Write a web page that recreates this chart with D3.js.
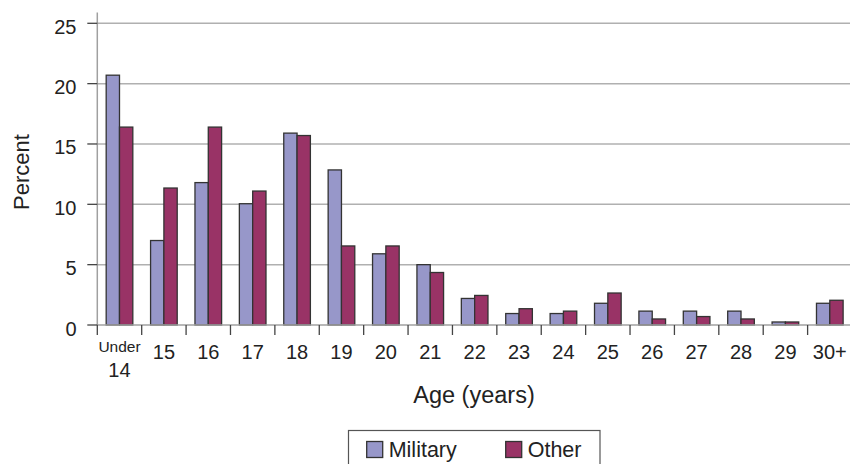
<!DOCTYPE html>
<html>
<head>
<meta charset="utf-8">
<script src="https://cdn.jsdelivr.net/npm/d3@7"></script>
<style>
  html, body { margin: 0; padding: 0; background: #fff; }
  svg { display: block; font-family: "Liberation Sans", Arial, Helvetica, sans-serif; }
</style>
</head>
<body>
<svg id="chart" width="850" height="464"></svg>
<script>
const categories = ["Under 14", "15", "16", "17", "18", "19", "20", "21", "22", "23", "24", "25", "26", "27", "28", "29", "30+"];
const seriesNames = ["Military", "Other"];
const military = [20.7, 7.0, 11.8, 10.05, 15.9, 12.85, 5.9, 5.0, 2.2, 0.95, 0.95, 1.8, 1.15, 1.15, 1.15, 0.25, 1.8];
const other    = [16.4, 11.35, 16.4, 11.1, 15.7, 6.55, 6.55, 4.35, 2.45, 1.35, 1.15, 2.65, 0.5, 0.7, 0.5, 0.25, 2.05];
const yTicks = [0, 5, 10, 15, 20, 25];
const colors = ["#9797c9", "#993366"];

const svg = d3.select("#chart");
const plotLeft = 97.3, plotRight = 852, plotTop = 23.3, plotBottom = 325;

const x0 = d3.scaleBand().domain(categories).range([plotLeft, plotRight]).paddingInner(0).paddingOuter(0);
const x1 = d3.scaleBand().domain(seriesNames).range([x0.bandwidth() * 0.2, x0.bandwidth() * 0.8]).padding(0);
const y = d3.scaleLinear().domain([0, 25]).range([plotBottom, plotTop]);

// gridlines
svg.append("g").selectAll("line").data(yTicks.filter(d => d > 0)).join("line")
  .attr("x1", plotLeft).attr("x2", 850)
  .attr("y1", d => y(d)).attr("y2", d => y(d))
  .attr("stroke", "#b0b0b0").attr("stroke-width", 1.5);

// bars
const data = categories.map((c, i) => ({ cat: c, vals: [military[i], other[i]] }));
const groups = svg.append("g").selectAll("g").data(data).join("g")
  .attr("transform", d => `translate(${x0(d.cat)},0)`);
groups.selectAll("rect").data(d => d.vals.map((v, j) => ({ key: seriesNames[j], v, j }))).join("rect")
  .attr("x", d => x1(d.key))
  .attr("width", x1.bandwidth())
  .attr("y", d => y(d.v))
  .attr("height", d => y(0) - y(d.v))
  .attr("fill", d => colors[d.j])
  .attr("stroke", "#333")
  .attr("stroke-width", 1.3);

// x baseline
svg.append("line").attr("x1", plotLeft).attr("x2", 850).attr("y1", y(0)).attr("y2", y(0))
  .attr("stroke", "#a0a0a0").attr("stroke-width", 1.5);
// y axis line
svg.append("line").attr("x1", plotLeft).attr("x2", plotLeft).attr("y1", 12.5).attr("y2", plotBottom)
  .attr("stroke", "#a0a0a0").attr("stroke-width", 1.5);

// y ticks + labels
const yg = svg.append("g");
yg.selectAll("line").data(yTicks).join("line")
  .attr("x1", plotLeft - 10).attr("x2", plotLeft)
  .attr("y1", d => y(d)).attr("y2", d => y(d))
  .attr("stroke", "#444").attr("stroke-width", 1.3);
yg.selectAll("text").data(yTicks).join("text")
  .attr("x", 76.5).attr("y", d => y(d) + 10.5)
  .attr("text-anchor", "end").attr("font-size", 20).attr("fill", "#222")
  .text(d => d);

// x category boundary ticks
const bounds = categories.map(c => x0(c)).concat([plotRight]);
svg.append("g").selectAll("line").data(bounds).join("line")
  .attr("x1", d => d).attr("x2", d => d)
  .attr("y1", plotBottom).attr("y2", plotBottom + 10)
  .attr("stroke", "#444").attr("stroke-width", 1.3);

// x labels
const xl = svg.append("g");
categories.forEach(c => {
  const cx = x0(c) + x0.bandwidth() / 2;
  const parts = c.split(" ");
  if (parts.length > 1) {
    xl.append("text").attr("x", cx).attr("y", 352).attr("text-anchor", "middle")
      .attr("font-size", 15.5).attr("fill", "#222").text(parts[0]);
    xl.append("text").attr("x", cx).attr("y", 377).attr("text-anchor", "middle")
      .attr("font-size", 20).attr("fill", "#222").text(parts[1]);
  } else {
    xl.append("text").attr("x", cx).attr("y", 359).attr("text-anchor", "middle")
      .attr("font-size", 20).attr("fill", "#222").text(c);
  }
});

// axis titles
svg.append("text").attr("x", 474).attr("y", 403).attr("text-anchor", "middle")
  .attr("font-size", 23.5).attr("fill", "#222").text("Age (years)");
svg.append("text").attr("transform", "translate(28.5,172) rotate(-90)")
  .attr("text-anchor", "middle").attr("font-size", 22).attr("fill", "#222").text("Percent");

// legend
const lg = svg.append("g");
lg.append("rect").attr("x", 348.5).attr("y", 430.5).attr("width", 251.5).attr("height", 50)
  .attr("fill", "none").attr("stroke", "#555").attr("stroke-width", 1.2);
const legendX = [366.7, 505.7];
seriesNames.forEach((s, i) => {
  lg.append("rect").attr("x", legendX[i]).attr("y", 441.5).attr("width", 16).attr("height", 16)
    .attr("fill", colors[i]).attr("stroke", "#333").attr("stroke-width", 1.3);
  lg.append("text").attr("x", legendX[i] + 22).attr("y", 456.7)
    .attr("font-size", 21.5).attr("fill", "#222").text(s);
});
</script>
</body>
</html>
